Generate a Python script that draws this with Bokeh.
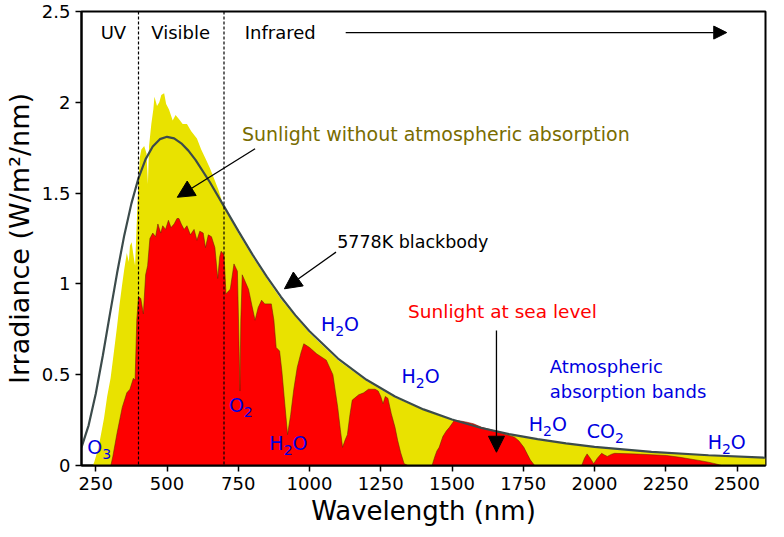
from bokeh.plotting import figure
from bokeh.models import Range1d, FixedTicker, NumeralTickFormatter, Span, Label, Arrow, NormalHead
from bokeh.embed import file_html
from bokeh.resources import INLINE

FONT = "DejaVu Sans"

# ---- data ----
# 5778 K blackbody curve (W/m^2/nm)
bb_nm = [200, 225, 250, 275, 300, 325, 350, 375, 400, 425, 450, 475, 500, 525, 550, 575,
         600, 650, 700, 750, 800, 850, 900, 950, 1000, 1100, 1200, 1300, 1400, 1500, 1600,
         1700, 1800, 1900, 2000, 2200, 2400, 2600]
bb_val = [0.100, 0.221, 0.395, 0.607, 0.836, 1.061, 1.267, 1.442, 1.583, 1.687, 1.757, 1.797,
          1.810, 1.801, 1.774, 1.734, 1.683, 1.561, 1.427, 1.292, 1.161, 1.040, 0.928, 0.828,
          0.739, 0.589, 0.472, 0.380, 0.309, 0.253, 0.208, 0.173, 0.145, 0.122, 0.103, 0.0755,
          0.0563, 0.0428]

# Sunlight without atmospheric absorption (top of atmosphere)
et_nm = [240, 245, 260, 279, 290, 302, 310, 318, 325, 333, 342, 350, 359, 366, 370, 376, 382,
         388, 393, 399, 405, 410, 420, 428, 433, 437, 445, 452, 456, 465, 473, 480, 490, 497,
         507, 520, 530, 541, 555, 570, 585, 605, 620, 635, 650, 665, 680, 700, 725, 750, 775,
         800, 850, 900, 950, 1000, 1100, 1200, 1300, 1400, 1500, 1600, 1700, 1800, 1900, 2000,
         2200, 2400, 2600]
et_val = [0.0, 0.02, 0.10, 0.26, 0.38, 0.48, 0.58, 0.68, 0.77, 0.88, 0.99, 1.08, 1.17, 1.12,
          1.21, 1.23, 1.16, 1.10, 1.30, 1.54, 1.70, 1.74, 1.76, 1.72, 1.55, 1.76, 1.88, 1.96,
          2.03, 1.98, 2.00, 2.04, 2.05, 1.99, 1.96, 1.90, 1.93, 1.91, 1.88, 1.88, 1.84, 1.80,
          1.74, 1.69, 1.64, 1.58, 1.52, 1.42, 1.35, 1.28, 1.215, 1.15, 1.03, 0.915, 0.82, 0.73,
          0.58, 0.465, 0.375, 0.305, 0.25, 0.205, 0.17, 0.142, 0.12, 0.101, 0.074, 0.055, 0.042]

# Sunlight at sea level
sea_nm = [300, 303, 310, 325, 343, 359, 370, 382, 388, 394, 400, 408, 417, 425, 432, 440, 450,
          460, 468, 478, 485, 495, 505, 514, 525, 535, 542, 550, 560, 570, 582, 595, 605, 615,
          627, 635, 645, 656, 668, 678, 685, 690, 700, 707, 715, 722, 735, 747, 752, 756, 759,
          764, 775, 786, 798, 809, 820, 832, 843, 866, 875, 883, 895, 903, 911, 923, 934, 945,
          957, 970, 980, 1000, 1025, 1059, 1082, 1099, 1108, 1116, 1125, 1133, 1142, 1150, 1173,
          1190, 1207, 1230, 1241, 1250, 1258, 1266, 1275, 1287, 1300, 1309, 1320, 1332, 1345,
          1430, 1440, 1447, 1455, 1468, 1480, 1491, 1508, 1530, 1548, 1575, 1605, 1630, 1662,
          1690, 1719, 1735, 1752, 1765, 1775, 1790, 1955, 1965, 1974, 1985, 1997, 2010, 2025,
          2035, 2045, 2060, 2071, 2150, 2252, 2300, 2366, 2400, 2423, 2446, 2600]
sea_val = [0.0, 0.0, 0.05, 0.18, 0.32, 0.40, 0.42, 0.48, 0.47, 0.80, 0.93, 0.92, 0.835, 1.05,
           1.10, 1.25, 1.28, 1.26, 1.33, 1.28, 1.32, 1.30, 1.35, 1.31, 1.33, 1.36, 1.36, 1.33,
           1.30, 1.32, 1.27, 1.30, 1.24, 1.29, 1.28, 1.20, 1.27, 1.26, 1.20, 1.03, 1.15, 1.18,
           1.16, 0.945, 0.96, 0.97, 1.11, 1.07, 0.72, 0.41, 0.80, 1.05, 1.01, 0.97, 0.88, 0.80,
           0.87, 0.91, 0.89, 0.89, 0.80, 0.65, 0.63, 0.52, 0.38, 0.17, 0.28, 0.42, 0.54, 0.62,
           0.67, 0.65, 0.615, 0.58, 0.50, 0.32, 0.20, 0.10, 0.14, 0.17, 0.28, 0.36, 0.39, 0.40,
           0.42, 0.42, 0.41, 0.38, 0.34, 0.38, 0.37, 0.285, 0.21, 0.14, 0.07, 0.01, 0.0, 0.0,
           0.05, 0.08, 0.10, 0.16, 0.19, 0.21, 0.248, 0.245, 0.24, 0.23, 0.21, 0.20, 0.185, 0.17,
           0.156, 0.135, 0.10, 0.06, 0.03, 0.0, 0.0, 0.04, 0.064, 0.04, 0.01, 0.04, 0.067, 0.058,
           0.05, 0.062, 0.067, 0.063, 0.055, 0.045, 0.028, 0.018, 0.01, 0.0, 0.0]

band_edges = [400, 700]
x_ticks = [250, 500, 750, 1000, 1250, 1500, 1750, 2000, 2250, 2500]
y_ticks = [0, 0.5, 1, 1.5, 2, 2.5]

YELLOW = "#e9e200"
RED = "#fe0000"
BLUE = "#0000e0"
OLIVE = "#786c00"

p = figure(width=768, height=528, output_backend="svg", toolbar_location=None,
           x_range=Range1d(200, 2600), y_range=Range1d(0, 2.5),
           min_border_left=70, min_border_right=3, min_border_top=11, min_border_bottom=63,
           x_axis_label="Wavelength (nm)", y_axis_label="Irradiance (W/m²/nm)")
p.xgrid.visible = False
p.ygrid.visible = False
p.outline_line_color = "black"
p.outline_line_width = 2
p.outline_line_alpha = 1.0
p.background_fill_color = "white"
p.border_fill_color = "white"

p.varea(x=et_nm, y1=0, y2=et_val, fill_color=YELLOW)
p.varea(x=sea_nm, y1=0, y2=sea_val, fill_color=RED)
p.line(sea_nm, sea_val, line_color="#6a2400", line_width=0.7, line_alpha=0.8)
p.line(bb_nm, bb_val, line_color="#3c4b4b", line_width=2.2)

for e in band_edges:
    p.add_layout(Span(location=e, dimension="height", line_color="black",
                      line_dash="3 2", line_width=1.2))

p.xaxis.ticker = FixedTicker(ticks=x_ticks)
p.yaxis.ticker = FixedTicker(ticks=y_ticks)
p.yaxis.formatter = NumeralTickFormatter(format="0.[0]")
for ax in (p.xaxis[0], p.yaxis[0]):
    ax.axis_line_width = 2
    ax.axis_line_color = "black"
    ax.major_tick_line_width = 1.5
    ax.major_tick_line_color = "black"
    ax.major_tick_out = 6
    ax.major_tick_in = 0
    ax.minor_tick_out = 0
    ax.minor_tick_in = 0
    ax.major_label_text_font = FONT
    ax.major_label_text_font_size = "18px"
    ax.major_label_text_color = "black"
    ax.major_label_standoff = 5
    ax.axis_label_text_font = FONT
    ax.axis_label_text_font_style = "normal"
    ax.axis_label_text_color = "black"
p.xaxis.axis_label_text_font_size = "26px"
p.yaxis.axis_label_text_font_size = "27px"
p.xaxis.axis_label_standoff = 3
p.yaxis.axis_label_standoff = 4


def lab(x, y, text, color="black", size="18px", align="center", dx=0, dy=0):
    p.add_layout(Label(x=x, y=y, text=text, text_font=FONT, text_font_size=size,
                       text_color=color, text_align=align, text_baseline="middle",
                       x_offset=dx, y_offset=dy))


ADV = {"H": 0.752, "O": 0.787, "C": 0.698}


def chem(x, y, pre, sub, post="", size=19, sub_size=14):
    w_pre = sum(ADV[c] for c in pre) * size
    w_sub = 0.636 * sub_size
    w_post = sum(ADV[c] for c in post) * size
    start = -(w_pre + w_sub + w_post) / 2
    lab(x, y, pre, color=BLUE, size=f"{size}px", align="left", dx=start)
    lab(x, y, sub, color=BLUE, size=f"{sub_size}px", align="left", dx=start + w_pre, dy=-7)
    if post:
        lab(x, y, post, color=BLUE, size=f"{size}px", align="left", dx=start + w_pre + w_sub)


def arrow(x0, y0, x1, y1, size):
    p.add_layout(Arrow(end=NormalHead(size=size, fill_color="black", line_color="black",
                                      line_width=1),
                       x_start=x0, y_start=y0, x_end=x1, y_end=y1,
                       line_color="black", line_width=1.3))


lab(312, 2.384, "UV")
lab(548, 2.384, "Visible")
lab(773, 2.384, "Infrared", align="left")
arrow(1127, 2.384, 2464, 2.384, 13)

lab(763, 1.828, "Sunlight without atmospheric absorption", color=OLIVE, size="19px", align="left")
arrow(809, 1.744, 536, 1.477, 17)

lab(1097, 1.228, "5778K blackbody", size="17.5px", align="left")
arrow(1093, 1.175, 912, 0.973, 17)

lab(1346, 0.848, "Sunlight at sea level", color=RED, size="18.5px", align="left")
arrow(1656, 0.743, 1656, 0.073, 16)

chem(1107, 0.78, "H", "2", "O")
chem(1390, 0.495, "H", "2", "O")
chem(759, 0.335, "O", "2")
chem(926, 0.126, "H", "2", "O")
chem(1836, 0.23, "H", "2", "O")
chem(2038, 0.192, "CO", "2")
chem(2464, 0.131, "H", "2", "O")
chem(262, 0.104, "O", "3")
lab(1843, 0.545, "Atmospheric", color=BLUE, align="left")
lab(1843, 0.407, "absorption bands", color=BLUE, align="left")

open("out.html", "w").write(file_html(p, INLINE))
